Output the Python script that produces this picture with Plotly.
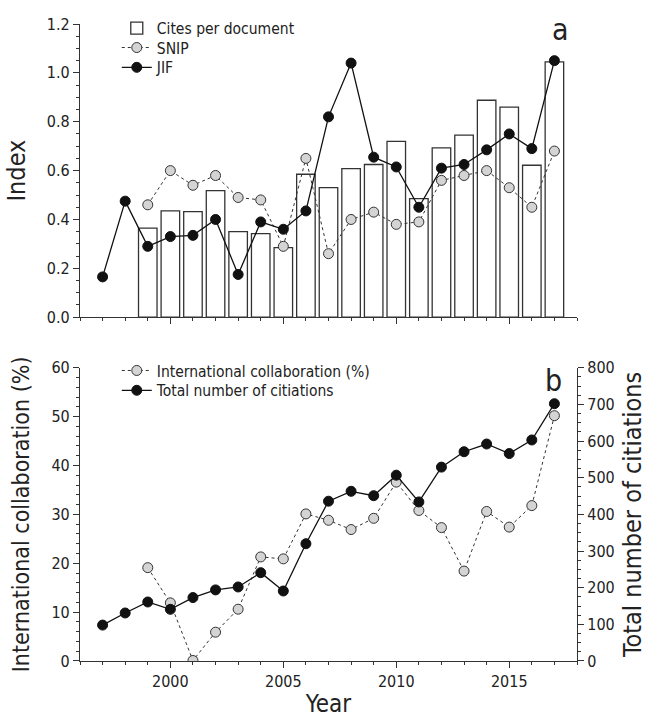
import plotly.graph_objects as go

# ---- data ----
years_cites = list(range(1999, 2018))
cites_per_doc = [0.365, 0.435, 0.432, 0.518, 0.350, 0.342, 0.285, 0.585, 0.530, 0.608,
                 0.625, 0.720, 0.485, 0.693, 0.745, 0.888, 0.860, 0.622, 1.045]

years_snip = list(range(1999, 2018))
snip = [0.46, 0.60, 0.54, 0.58, 0.49, 0.48, 0.29, 0.65, 0.26, 0.40,
        0.43, 0.38, 0.39, 0.56, 0.58, 0.60, 0.53, 0.45, 0.68]

years_jif = list(range(1997, 2018))
jif = [0.165, 0.475, 0.29, 0.33, 0.335, 0.40, 0.175, 0.39, 0.36, 0.435,
       0.82, 1.04, 0.655, 0.615, 0.45, 0.61, 0.625, 0.685, 0.75, 0.69, 1.05]

years_collab = list(range(1999, 2018))
intl_collab = [19.1, 11.9, 0.1, 5.9, 10.6, 21.3, 20.9, 30.1, 28.8, 26.9,
               29.2, 36.6, 30.8, 27.3, 18.4, 30.6, 27.4, 31.8, 50.2]

years_citations = list(range(1997, 2018))
total_citations = [98, 131, 161, 141, 173, 194, 202, 241, 191, 320, 436,
                   463, 451, 507, 434, 529, 571, 592, 566, 603, 702]

year_ticks = [2000, 2005, 2010, 2015]

# ---- style ----
FONT = "DejaVu Sans Condensed, Liberation Sans Narrow, Arial Narrow, sans-serif"
TXT = "#222222"
AX = "#333333"
GRAY = "#d4d4d4"

fig = go.Figure()

fig.add_trace(go.Bar(
    x=years_cites, y=cites_per_doc, width=0.82, name="Cites per document",
    marker=dict(color="white", line=dict(color=AX, width=1.3)),
    xaxis="x", yaxis="y", legend="legend"))
fig.add_trace(go.Scatter(
    x=years_snip, y=snip, mode="lines+markers", name="SNIP",
    line=dict(color=AX, width=1, dash="dot"),
    marker=dict(size=10, color=GRAY, line=dict(color=AX, width=1)),
    xaxis="x", yaxis="y", legend="legend3"))
fig.add_trace(go.Scatter(
    x=years_jif, y=jif, mode="lines+markers", name="JIF",
    line=dict(color="#111111", width=1.3),
    marker=dict(size=10, color="#111111", line=dict(color="#111111", width=1)),
    xaxis="x", yaxis="y", legend="legend4"))

fig.add_trace(go.Scatter(
    x=years_collab, y=intl_collab, mode="lines+markers",
    name="International collaboration (%)",
    line=dict(color=AX, width=1, dash="dot"),
    marker=dict(size=10, color=GRAY, line=dict(color=AX, width=1)),
    xaxis="x2", yaxis="y2", legend="legend2"))
fig.add_trace(go.Scatter(
    x=years_citations, y=total_citations, mode="lines+markers",
    name="Total number of citiations",
    line=dict(color="#111111", width=1.3),
    marker=dict(size=10, color="#111111", line=dict(color="#111111", width=1)),
    xaxis="x2", yaxis="y3", legend="legend5"))

tickfont = dict(family=FONT, size=16, color=TXT)
titlefont = dict(family=FONT, size=25, color=TXT)
legfont = dict(family=FONT, size=15.5, color=TXT)

def xax(**kw):
    d = dict(range=[1996, 2018], tickmode="array", tickvals=year_ticks,
             ticks="outside", ticklen=6, tickwidth=1.2, tickcolor=AX,
             showline=True, linecolor=AX, linewidth=1.2, showgrid=False,
             zeroline=False, tickfont=tickfont, automargin=False,
             minor=dict(dtick=1, tick0=1996, ticks="outside", ticklen=3,
                        tickcolor=AX, tickwidth=1, showgrid=False))
    d.update(kw)
    return d

def yax(**kw):
    d = dict(ticks="outside", ticklen=6, tickwidth=1.2, tickcolor=AX,
             showline=True, linecolor=AX, linewidth=1.2, showgrid=False,
             zeroline=False, tickfont=tickfont, automargin=False)
    d.update(kw)
    return d

def leg(y):
    return dict(x=0.074, y=y, xanchor="left", yanchor="top",
                bgcolor="rgba(0,0,0,0)", font=legfont,
                tracegroupgap=0, itemwidth=30)

fig.update_layout(
    width=654, height=723,
    margin=dict(l=80, r=77, t=18, b=62),
    paper_bgcolor="white", plot_bgcolor="white",
    font=dict(family=FONT, color=TXT),
    xaxis=xax(domain=[0, 1], anchor="y", showticklabels=False),
    yaxis=yax(domain=[0.5397, 1], anchor="x", range=[0, 1.2], dtick=0.2,
              tickformat=".1f",
              minor=dict(dtick=0.05, ticks="outside", ticklen=3, tickcolor=AX,
                         showgrid=False),
              title=dict(text="Index", font=titlefont, standoff=14)),
    xaxis2=xax(domain=[0, 1], anchor="y2",
               title=dict(text="Year", font=dict(family=FONT, size=24, color=TXT),
                          standoff=4)),
    yaxis2=yax(domain=[0, 0.4603], anchor="x2", range=[0, 60], dtick=10,
               minor=dict(dtick=2, ticks="outside", ticklen=3, tickcolor=AX,
                          showgrid=False),
               title=dict(text="International collaboration (%)",
                          font=dict(family=FONT, size=23, color=TXT), standoff=15)),
    yaxis3=yax(overlaying="y2", side="right", anchor="x2", range=[0, 800],
               dtick=100,
               minor=dict(dtick=25, ticks="outside", ticklen=3, tickcolor=AX,
                          showgrid=False),
               title=dict(text="Total number of citiations", font=titlefont,
                          standoff=9)),
    legend=leg(1.0194),
    legend3=leg(0.9891),
    legend4=leg(0.958),
    legend2=leg(0.4821),
    legend5=leg(0.451),
    showlegend=True,
    annotations=[
        dict(text="a", x=0.966, y=0.991, xref="paper", yref="paper",
             xanchor="center", yanchor="middle", showarrow=False,
             font=dict(family=FONT, size=30, color=TXT)),
        dict(text="b", x=0.952, y=0.44, xref="paper", yref="paper",
             xanchor="center", yanchor="middle", showarrow=False,
             font=dict(family=FONT, size=30, color=TXT)),
    ],
)

# remove the default 8px page margin so the figure fills the window exactly
fig.write_html("out.html",
               config={"displayModeBar": False},
               post_script="document.body.style.margin='0px';"
                           "document.body.style.padding='0px';")
